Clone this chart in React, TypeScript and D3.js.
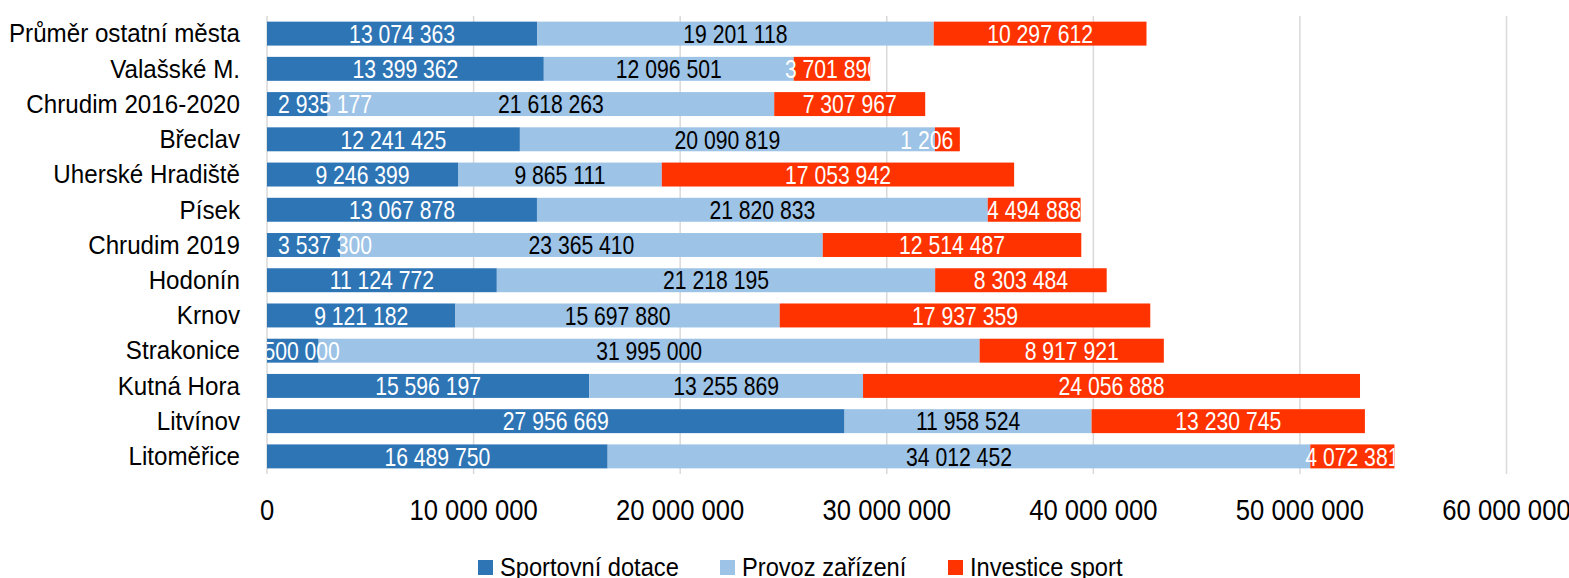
import React from 'react';
import * as d3 from 'd3';

const categories = [
	'Průměr ostatní města', 'Valašské M.', 'Chrudim 2016-2020', 'Břeclav', 'Uherské Hradiště', 'Písek',
	'Chrudim 2019', 'Hodonín', 'Krnov', 'Strakonice', 'Kutná Hora', 'Litvínov', 'Litoměřice',
];
const sportovniDotace = [13074363, 13399362, 2935177, 12241425, 9246399, 13067878, 3537300, 11124772, 9121182, 2500000, 15596197, 27956669, 16489750];
const provozZarizeni = [19201118, 12096501, 21618263, 20090819, 9865111, 21820833, 23365410, 21218195, 15697880, 31995000, 13255869, 11958524, 34012452];
const investiceSport = [10297612, 3701890, 7307967, 1206500, 17053942, 4494888, 12514487, 8303484, 17937359, 8917921, 24056888, 13230745, 4072381];
const seriesNames = ['Sportovní dotace', 'Provoz zařízení', 'Investice sport'];
const xTicks = [0, 10000000, 20000000, 30000000, 40000000, 50000000, 60000000];

const colors = ['#2E75B6', '#9DC3E6', '#FF3300'];
const labelColors = ['#fff', '#000', '#fff'];
// no Arial Narrow here, so squeeze Liberation Sans horizontally
const font = '"Liberation Sans", Arial, sans-serif';

const width = 1569;
const height = 578;
const margin = {top: 16, right: 63, bottom: 104, left: 267};

const fmt = d3.formatLocale({decimal: ',', thousands: ' ', grouping: [3], currency: ['', '']}).format(',d');

// narrow text: translate + horizontal squeeze
const NT = ({x, y, sx, children, ...rest}: any) => (
	<text transform={`translate(${x},${y}) scale(${sx},1)`} {...rest}>{children}</text>
);

const labelSize = 25.5;
const labelSx = 0.83;
// rough label width (Arial digits .556em, spaces .278em)
const labelWidth = (s: string) => s.split('').reduce((a, ch) => a + (ch === ' ' ? 0.278 : 0.556), 0) * labelSize * labelSx;

export default function App() {
	const rows = categories.map((c, i) => ({
		cat: c,
		s0: sportovniDotace[i], s1: provozZarizeni[i], s2: investiceSport[i],
	}));
	const stack = d3.stack<any>().keys(['s0', 's1', 's2'])(rows);

	const x = d3.scaleLinear()
		.domain([0, 60000000])
		.range([margin.left, width - margin.right + 0.5]);
	const y = d3.scaleBand()
		.domain(categories)
		.range([margin.top, height - margin.bottom])
		.paddingInner(0.32)
		.paddingOuter(0.16);

	const totals = rows.map(r => r.s0 + r.s1 + r.s2);

	// small overflow past the left edge gets nudged inside, big overflow stays clipped
	const labelX = (d: any, txt: string) => {
		const cx = (x(d[0]) + x(d[1])) / 2;
		const w = labelWidth(txt);
		const over = x(0) - (cx - w / 2);
		if (over > 0 && over < 18) return x(0) + 11 + w / 2;
		return cx;
	};

	return (
		<svg width={width} height={height} style={{position: 'absolute', left: 0, top: 0}} fontFamily={font}>
			<defs>
				{categories.map((c, i) => (
					<clipPath id={`row${i}`} key={c}>
						<rect x={x(0)} y={y(c)} width={x(totals[i]) - x(0)} height={y.bandwidth()} />
					</clipPath>
				))}
			</defs>
			{/* gridlines */}
			<g stroke="#d9d9d9" strokeWidth={1.5}>
				{xTicks.map(t => (
					<line key={t} x1={x(t)} x2={x(t)} y1={margin.top} y2={height - margin.bottom} />
				))}
			</g>
			{/* bars */}
			{stack.map((s, si) => (
				<g key={si} fill={colors[si]}>
					{s.map((d, i) => (
						<rect key={i} x={x(d[0])} y={y(categories[i])} width={x(d[1]) - x(d[0])} height={y.bandwidth()} />
					))}
				</g>
			))}
			{/* data labels */}
			{stack.map((s, si) => (
				<g key={si} fill={labelColors[si]} fontSize={labelSize} textAnchor="middle">
					{s.map((d, i) => {
						const txt = fmt(d[1] - d[0]);
						return (
							<g key={i} clipPath={`url(#row${i})`}>
								<NT x={labelX(d, txt)} y={y(categories[i])! + y.bandwidth() / 2 + 9.2} sx={labelSx}>
									{txt}
								</NT>
							</g>
						);
					})}
				</g>
			))}
			{/* category labels */}
			<g fontSize={26} textAnchor="end" fill="#000">
				{categories.map(c => (
					<NT key={c} x={240} y={y(c)! + y.bandwidth() / 2 + 8.8} sx={0.93}>{c}</NT>
				))}
			</g>
			{/* x tick labels */}
			<g fontSize={30} textAnchor="middle" fill="#000">
				{xTicks.map(t => (
					<NT key={t} x={x(t)} y={520} sx={0.855}>{fmt(t)}</NT>
				))}
			</g>
			{/* legend */}
			<g fontSize={26}>
				{seriesNames.map((n, i) => {
					const lx = [478, 720, 948][i];
					return (
						<g key={n}>
							<rect x={lx} y={560} width={15} height={15} fill={colors[i]} />
							<NT x={lx + 22} y={576} sx={0.91} fill="#000">{n}</NT>
						</g>
					);
				})}
			</g>
		</svg>
	);
}
